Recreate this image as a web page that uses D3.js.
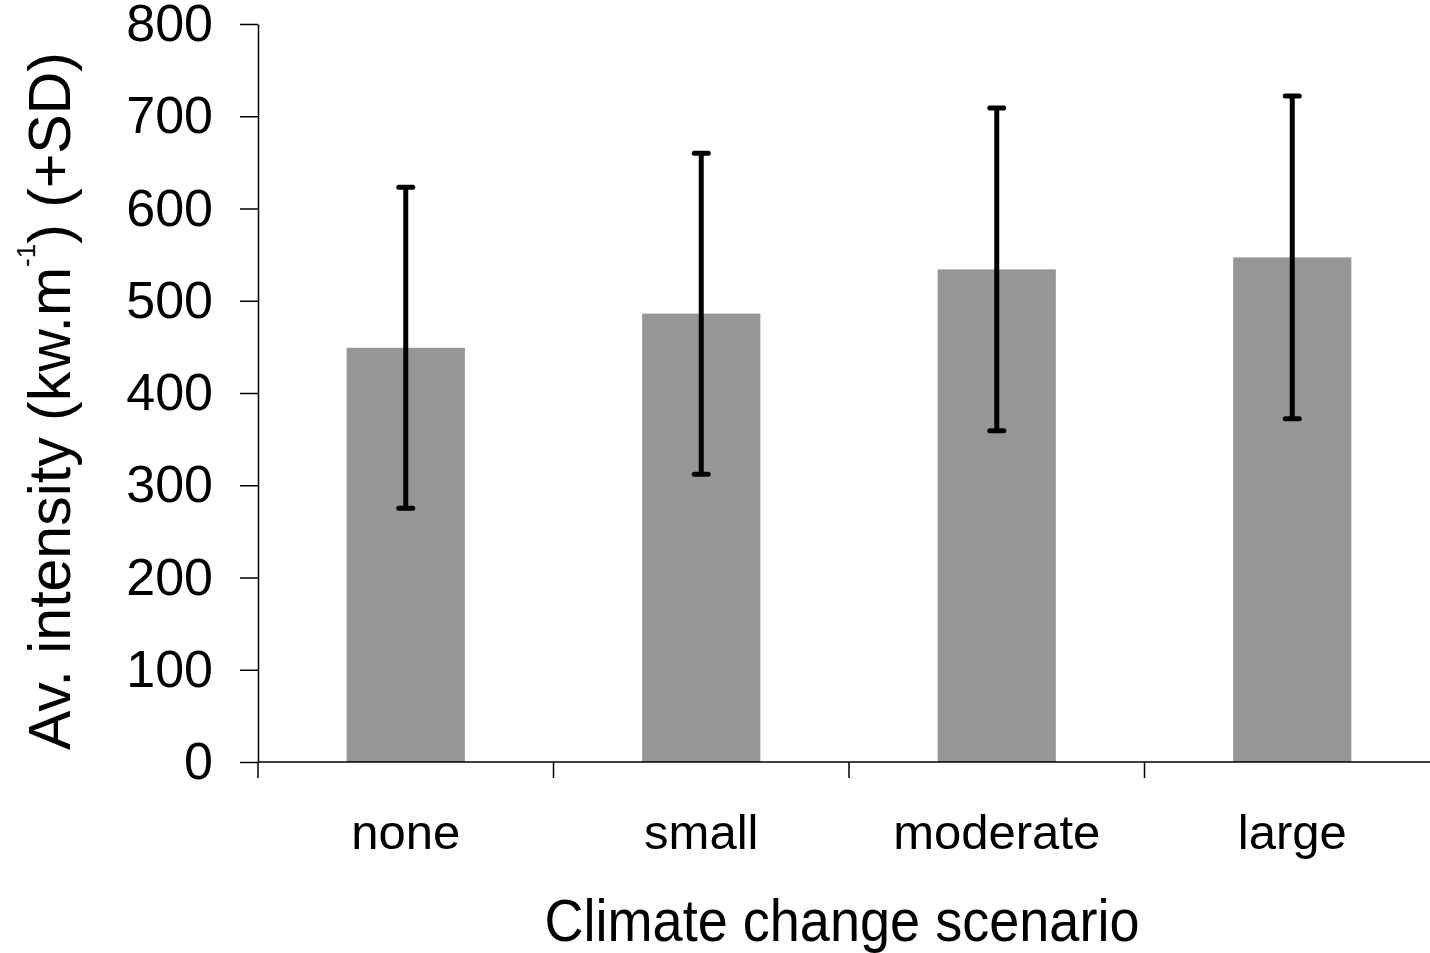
<!DOCTYPE html>
<html>
<head>
<meta charset="utf-8">
<script src="https://cdn.jsdelivr.net/npm/d3@7"></script>
<style>
  html, body { margin: 0; padding: 0; background: #fff; }
  svg { display: block; }
  text { font-family: "Liberation Sans", Arial, sans-serif; fill: #000; }
</style>
</head>
<body>
<svg id="chart" width="1430" height="953"></svg>
<script>
const categories = ["none", "small", "moderate", "large"];
const means = [449, 486, 534, 547];
const sds = [174, 174, 175, 175];
const yTicks = [0, 100, 200, 300, 400, 500, 600, 700, 800];

const svg = d3.select("#chart");
const plotLeft = 258, plotRight = 1440, plotTop = 24, plotBottom = 762;

const x = d3.scaleBand().domain(categories).range([plotLeft, plotRight])
  .paddingInner(0.6).paddingOuter(0.3);
const y = d3.scaleLinear().domain([0, 800]).range([plotBottom, plotTop]);

const data = categories.map((c, i) => ({ c, m: means[i], sd: sds[i] }));

// bars
svg.append("g").selectAll("rect").data(data).join("rect")
  .attr("x", d => x(d.c))
  .attr("y", d => y(d.m))
  .attr("width", x.bandwidth())
  .attr("height", d => y(0) - y(d.m))
  .attr("fill", "#969696");

// y axis
const yAxis = svg.append("g").attr("transform", `translate(${plotLeft},0)`)
  .call(d3.axisLeft(y).tickValues(yTicks).tickSize(18).tickSizeOuter(0).tickPadding(27));
yAxis.select(".domain").attr("stroke", "#000").attr("stroke-width", 1.5);
yAxis.selectAll(".tick line").attr("stroke", "#000").attr("stroke-width", 1.5);
yAxis.selectAll(".tick text").attr("font-size", 52).attr("font-family", "Liberation Sans, Arial, sans-serif").attr("fill", "#000");

// x axis baseline
svg.append("line").attr("x1", plotLeft).attr("x2", plotRight).attr("y1", y(0)).attr("y2", y(0))
  .attr("stroke", "#000").attr("stroke-width", 1.5);
// x ticks at band boundaries
const gap = (x.step() - x.bandwidth()) / 2;
const bounds = categories.map(c => x(c) - gap).concat([plotRight]);
svg.append("g").selectAll("line").data(bounds).join("line")
  .attr("x1", d => d).attr("x2", d => d)
  .attr("y1", y(0)).attr("y2", y(0) + 16)
  .attr("stroke", "#000").attr("stroke-width", 1.5);
// category labels
svg.append("g").selectAll("text").data(categories).join("text")
  .attr("x", d => x(d) + x.bandwidth() / 2)
  .attr("y", 849)
  .attr("text-anchor", "middle")
  .attr("font-size", 49)
  .text(d => d);

// error bars
const eb = svg.append("g").attr("stroke", "#000").attr("stroke-width", 5).attr("stroke-linecap", "round");
data.forEach(d => {
  const cx = x(d.c) + x.bandwidth() / 2;
  eb.append("line").attr("x1", cx).attr("x2", cx)
    .attr("y1", y(d.m - d.sd)).attr("y2", y(d.m + d.sd)).attr("stroke-linecap", "butt");
  [d.m - d.sd, d.m + d.sd].forEach(v => {
    eb.append("line").attr("x1", cx - 7).attr("x2", cx + 7)
      .attr("y1", y(v)).attr("y2", y(v));
  });
});

// x title
svg.append("text")
  .attr("x", 842).attr("y", 941)
  .attr("text-anchor", "middle")
  .attr("font-size", 59)
  .attr("textLength", 595)
  .attr("lengthAdjust", "spacingAndGlyphs")
  .text("Climate change scenario");

// y title
const yt = svg.append("text")
  .attr("transform", "translate(70,401) rotate(-90)")
  .attr("text-anchor", "middle")
  .attr("font-size", 59);
yt.append("tspan").text("Av. intensity (kw.m");
yt.append("tspan").attr("font-size", 26).attr("dy", -35).text("-1");
yt.append("tspan").attr("dy", 35).text(") (+SD)");
</script>
</body>
</html>
